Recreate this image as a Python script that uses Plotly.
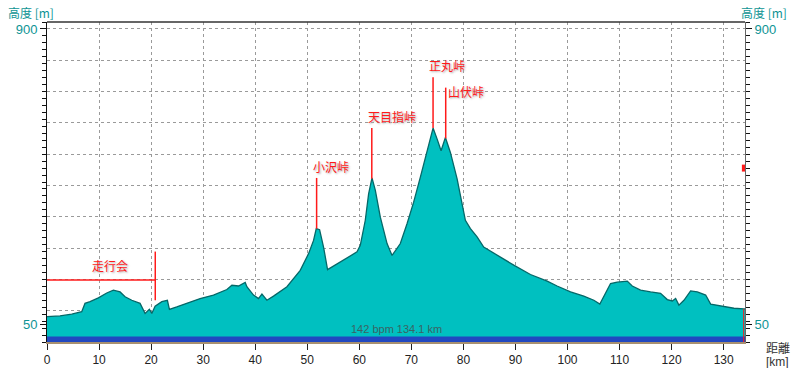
import numpy as np
import plotly.graph_objects as go

# ---- data ----
dist_km = [0, 2.5, 4.75, 6.67, 7.3, 8.27, 9.87, 11.48, 12.75, 14.04, 15.0, 16.29, 17.88, 18.85, 19.67,
           20.13, 20.77, 22.06, 23.13, 23.52, 24.94, 26.87, 29.42, 31.98, 34.56, 35.52, 36.79, 38.08,
           38.4, 39.67, 40.63, 41.29, 42.25, 43.52, 46.1, 48.65, 50.25, 51.21, 51.73, 52.37, 53.13,
           53.9, 55.38, 57.63, 59.56, 60.19, 61.15, 61.79, 62.44, 63.08, 64.04, 65.33, 66.29, 67.25,
           67.88, 69.17, 70.44, 71.73, 73.02, 74.17, 74.94, 75.71, 76.54, 77.5, 78.79, 79.75, 80.38,
           81.35, 82.63, 83.9, 86.48, 89.67, 92.88, 96.1, 98.0, 100.58, 103.13, 105.06, 106.21,
           107.31, 108.27, 109.56, 111.48, 112.44, 114.04, 115.96, 117.88, 119.17, 120.13, 120.77,
           121.4, 122.37, 123.65, 124.94, 126.54, 127.5, 129.42, 131.98, 133.9, 134.1]
elev_m = [73, 75, 80, 87, 111, 116, 127, 141, 149, 144, 130, 120, 111, 82, 94, 82, 103, 116, 120, 94,
          101, 111, 125, 135, 151, 163, 161, 171, 159, 135, 125, 138, 120, 132, 159, 206, 254, 292,
          326, 323, 273, 208, 221, 243, 259, 278, 350, 426, 472, 436, 359, 283, 249, 269, 283, 340,
          402, 474, 550, 615, 584, 550, 588, 545, 469, 402, 350, 326, 302, 273, 249, 221, 194, 175,
          161, 144, 132, 120, 109, 140, 168, 172, 175, 161, 149, 144, 140, 122, 118, 125, 106, 120,
          147, 144, 135, 109, 103, 97, 95, 95]

pass_names = ["小沢峠", "天目指峠", "正丸峠", "山伏峠"]
pass_km = [51.8, 62.4, 74.17, 76.6]
# label placement: "above" the marker line, or "beside" (to the right of its top)
pass_label_side = ["above", "above", "above", "beside"]

event_name = "走行会"
event_km = 20.8
event_elev = 178

summary_text = "142 bpm 134.1 km"
x_ticks = list(range(0, 131, 10))
y_labels = [50, 900]

TEAL = "#0e9494"
RED = "#ff1a1a"
total_km = dist_km[-1]

fig = go.Figure()
fig.add_trace(go.Scatter(x=dist_km, y=elev_m, mode="lines", fill="tozeroy",
                         fillcolor="#00c0c0", line=dict(color="#056868", width=1.3),
                         hoverinfo="skip", showlegend=False))

# blue heart-rate band at bottom
fig.add_shape(type="rect", xref="x", yref="y", x0=0, x1=total_km, y0=0, y1=16,
              fillcolor="#2148c0", line=dict(width=0), layer="above")
fig.add_annotation(x=total_km / 2, y=16, xref="x", yref="y", text=summary_text, showarrow=False,
                   yanchor="bottom", yshift=-1, font=dict(family="Liberation Sans", size=11, color="#3a6464"))

label_font = dict(family="Noto Sans CJK JP", size=12, color=RED, shadow="1px 1px 2px #aaaaaa")

# pass markers
for name, km, side in zip(pass_names, pass_km, pass_label_side):
    peak = float(np.interp(km, dist_km, elev_m))
    top = peak + 146
    fig.add_shape(type="line", xref="x", yref="y", x0=km, x1=km, y0=peak, y1=top,
                  line=dict(color=RED, width=1.5))
    if side == "above":
        fig.add_annotation(x=km, y=top, xref="x", yref="y", text=name, showarrow=False,
                           xanchor="left", yanchor="bottom", xshift=-6, yshift=1, font=label_font)
    else:
        fig.add_annotation(x=km, y=top, xref="x", yref="y", text=name, showarrow=False,
                           xanchor="left", yanchor="top", xshift=0, yshift=7, font=label_font)

# event marker
fig.add_shape(type="line", xref="x", yref="y", x0=0, x1=event_km, y0=event_elev, y1=event_elev,
              line=dict(color=RED, width=1.5))
fig.add_shape(type="line", xref="x", yref="y", x0=event_km, x1=event_km, y0=event_elev - 58,
              y1=event_elev + 82, line=dict(color=RED, width=1.5))
fig.add_annotation(x=event_km * 0.58, y=event_elev, xref="x", yref="y", text=event_name,
                   showarrow=False, yanchor="bottom", yshift=4, font=label_font)

# end marker
fig.add_shape(type="line", xref="x", yref="y", x0=total_km - 0.25, x1=total_km - 0.25, y0=0,
              y1=elev_m[-1], line=dict(color=RED, width=1))
fig.add_shape(type="rect", xref="x", yref="y", x0=total_km - 0.6, x1=total_km, y0=490, y1=510,
              fillcolor=RED, line=dict(width=0))

# top frame
fig.add_shape(type="line", xref="paper", yref="paper", x0=0, x1=1, y0=1, y1=1,
              line=dict(color="#333333", width=1.5))

minor_vals = list(range(0, 921, 20))
tickfont_y = dict(family="Liberation Sans", size=13, color=TEAL)

fig.update_layout(
    width=800, height=368,
    margin=dict(l=47, r=55, t=22, b=26, autoexpand=False),
    paper_bgcolor="white", plot_bgcolor="white",
    showlegend=False,
    xaxis=dict(range=[0, total_km], tickvals=x_ticks, ticks="outside", ticklen=6,
               tickcolor="#222222", tickwidth=1, showgrid=True, gridcolor="#9a9a9a",
               griddash="dot", gridwidth=1, zeroline=False, showline=True,
               linecolor="#a89070", linewidth=2, automargin=False,
               tickfont=dict(family="Liberation Sans", size=12, color="#222222")),
    yaxis=dict(range=[0, 920], tickmode="linear", tick0=0, dtick=90, ticks="",
               showticklabels=False, showgrid=True, gridcolor="#9a9a9a", griddash="dot",
               zeroline=False, showline=True, linecolor="#111111", linewidth=1, automargin=False,
               minor=dict(tickvals=minor_vals, ticks="outside", ticklen=4, tickcolor="#111111",
                          showgrid=False)),
    yaxis2=dict(range=[0, 920], overlaying="y", side="left", tickvals=y_labels,
                ticks="outside", ticklen=6, tickcolor="#111111", showgrid=False, zeroline=False,
                showline=False, tickfont=tickfont_y, automargin=False),
    yaxis3=dict(range=[0, 920], overlaying="y", side="right", tickvals=y_labels,
                ticks="outside", ticklen=6, tickcolor="#111111", showgrid=False, zeroline=False,
                showline=True, linecolor="#666666", linewidth=1, tickfont=tickfont_y,
                automargin=False,
                minor=dict(tickvals=minor_vals, ticks="outside", ticklen=4, tickcolor="#111111",
                           showgrid=False)),
)
# invisible traces to activate overlay axes
fig.add_trace(go.Scatter(x=[0], y=[0], yaxis="y2", mode="markers", marker=dict(opacity=0),
                         hoverinfo="skip", showlegend=False))
fig.add_trace(go.Scatter(x=[0], y=[0], yaxis="y3", mode="markers", marker=dict(opacity=0),
                         hoverinfo="skip", showlegend=False))

# axis titles
title_font = dict(family="Noto Sans CJK JP", size=12, color=TEAL)
fig.add_annotation(x=0, y=1, xref="paper", yref="paper", text="高度 [m]", showarrow=False,
                   xanchor="right", yanchor="bottom", xshift=9, yshift=-1, font=title_font)
fig.add_annotation(x=1, y=1, xref="paper", yref="paper", text="高度 [m]", showarrow=False,
                   xanchor="left", yanchor="bottom", xshift=-6, yshift=-1, font=title_font)
fig.add_annotation(x=1, y=0, xref="paper", yref="paper", text="距離", showarrow=False,
                   xanchor="left", yanchor="middle", xshift=19, yshift=-5,
                   font=dict(family="Noto Sans CJK JP", size=12, color="#333333"))
fig.add_annotation(x=1, y=0, xref="paper", yref="paper", text="[km]", showarrow=False,
                   xanchor="left", yanchor="middle", xshift=19, yshift=-20,
                   font=dict(family="Liberation Sans", size=12, color="#333333"))

fig.write_html("out.html", config={"displayModeBar": False},
               post_script="document.body.style.margin='0';document.body.style.overflow='hidden';")
